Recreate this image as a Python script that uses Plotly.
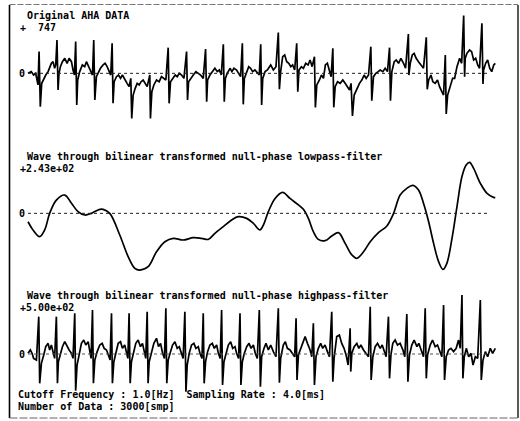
import plotly.graph_objects as go

# ---- data: (sample index, amplitude) vertices of each trace, 3000 samples @ 4 ms ----
ORIGINAL = [
    (0, 0), (21, 22), (36, -21), (49, 0), (58, -86), (64, -150), (71, 280), (79, -430),
    (88, -129), (101, -65), (114, -22), (129, 22), (139, 86), (150, 129), (161, 150), (171, 65),
    (178, 108), (186, 430), (193, -215), (199, 0), (208, 86), (221, 150), (236, 194), (251, 129),
    (264, 194), (279, 150), (289, 43), (298, -22), (306, 409), (313, -409), (319, -86), (332, 22),
    (349, 108), (364, 86), (375, 150), (388, 86), (401, 22), (414, -22), (422, 430), (429, -344),
    (439, -43), (452, 22), (465, 65), (482, 108), (495, 129), (508, 86), (521, 22), (531, -22),
    (540, 387), (546, -387), (553, -108), (568, -43), (581, -22), (594, -65), (606, -22), (621, -86),
    (636, -129), (649, -172), (660, -65), (666, -581), (675, -280), (688, -194), (701, -129), (714, -150),
    (726, -108), (739, -86), (752, -129), (765, -172), (782, -22), (786, -581), (795, -237), (808, -150),
    (825, -86), (842, -108), (857, -43), (872, -65), (885, -86), (900, 331), (906, -387), (915, -108),
    (928, -65), (945, -22), (958, -43), (971, 0), (986, -22), (1001, -65), (1018, 280), (1024, -344),
    (1031, -108), (1044, -65), (1061, -22), (1078, 22), (1093, 0), (1108, -22), (1125, -65), (1140, 314),
    (1147, -366), (1153, -86), (1168, -22), (1185, 22), (1200, 65), (1215, 22), (1228, 43), (1241, -22),
    (1254, 374), (1260, -366), (1267, -65), (1279, 0), (1297, 65), (1309, 22), (1322, 65), (1339, 43),
    (1352, 0), (1365, -43), (1376, 387), (1382, -400), (1389, -65), (1404, 22), (1417, 86), (1429, 65),
    (1442, 22), (1457, 43), (1472, 0), (1485, -22), (1494, 374), (1500, -409), (1507, -65), (1522, 22),
    (1537, 43), (1543, 65), (1558, 108), (1575, 43), (1592, 86), (1607, 525), (1614, -206), (1622, 22),
    (1635, 215), (1648, 237), (1661, 150), (1674, 129), (1687, 86), (1699, 108), (1712, 43), (1725, 387),
    (1732, -237), (1740, 43), (1755, 86), (1768, 65), (1783, 129), (1798, 108), (1811, 172), (1824, 86),
    (1839, 215), (1845, -439), (1854, -150), (1871, -86), (1884, -22), (1897, -65), (1909, 108), (1922, 129),
    (1935, 22), (1946, -43), (1957, 323), (1963, -439), (1972, -172), (1987, -108), (2004, -129), (2021, -86),
    (2036, -129), (2051, -172), (2064, -215), (2074, -129), (2083, -550), (2094, -280), (2111, -194), (2128, -129),
    (2143, -86), (2158, -22), (2171, -65), (2186, -22), (2201, 344), (2207, -353), (2218, -43), (2233, 0),
    (2248, 22), (2261, 43), (2278, 22), (2293, 65), (2308, 22), (2321, 331), (2327, -353), (2336, 22),
    (2351, 150), (2364, 172), (2379, 129), (2394, 194), (2411, 129), (2424, 65), (2442, 507), (2445, -22),
    (2454, 129), (2467, 237), (2479, 258), (2492, 194), (2507, 150), (2522, 108), (2539, 65), (2557, 464),
    (2563, -206), (2572, -86), (2587, -22), (2599, -108), (2614, -129), (2629, -86), (2642, -172), (2657, -237),
    (2668, -280), (2679, 237), (2685, -525), (2694, -280), (2711, -172), (2726, -65), (2739, -65), (2754, 86),
    (2771, 194), (2784, 129), (2797, 747), (2803, -43), (2807, 194), (2818, 258), (2835, 301), (2848, 280),
    (2861, 172), (2874, 194), (2887, 108), (2899, 65), (2914, 645), (2921, -138), (2925, 43), (2938, 129),
    (2951, 172), (2964, 65), (2977, 22), (2990, 108), (3000, 129),
]

LOWPASS = [
    (0, -40), (32, -79), (75, -111), (107, -79), (139, 0), (182, 63), (236, 87), (279, 48),
    (321, 8), (364, -8), (407, 0), (461, 19), (482, 19), (525, 0), (589, -103), (643, -206),
    (686, -262), (718, -270), (771, -254), (825, -183), (879, -135), (932, -119), (996, -127), (1061, -116),
    (1114, -119), (1157, -124), (1200, -95), (1254, -63), (1307, -32), (1350, -16), (1404, -24), (1447, -48),
    (1489, -79), (1511, -56), (1543, 8), (1586, 71), (1635, 100), (1682, 71), (1736, 40), (1768, 19),
    (1800, -24), (1832, -87), (1864, -124), (1907, -130), (1950, -108), (1993, -92), (2036, -143), (2079, -198),
    (2111, -214), (2154, -183), (2197, -135), (2250, -92), (2304, -60), (2347, 0), (2389, 87), (2432, 119),
    (2471, 133), (2507, 111), (2539, 48), (2572, -40), (2604, -143), (2636, -230), (2664, -267), (2689, -238),
    (2722, -119), (2754, 32), (2786, 175), (2813, 230), (2835, 243), (2861, 214), (2904, 143), (2947, 95),
    (2989, 76), (3000, 75),
]

HIGHPASS = [
    (0, 6), (15, 34), (26, 6), (36, -37), (54, -51), (69, 316), (75, -248), (86, -79),
    (101, -8), (114, 62), (129, 90), (139, 34), (150, 76), (161, 6), (171, -37), (182, 316),
    (189, -248), (195, -65), (208, -8), (221, 62), (236, 104), (251, 62), (264, 34), (279, 6),
    (289, -37), (300, 344), (306, -310), (315, -93), (328, -8), (343, 90), (358, 118), (371, 76),
    (386, 104), (396, 6), (405, -37), (414, 372), (420, -248), (429, -51), (444, 20), (461, 76),
    (476, 90), (489, 48), (504, 34), (516, -8), (527, -51), (536, 344), (542, -248), (551, -65),
    (564, 6), (579, 90), (594, 104), (606, 48), (621, 76), (632, 6), (641, -37), (649, 344),
    (656, -248), (664, -65), (679, 20), (692, 90), (707, 118), (722, 62), (735, 90), (748, 6),
    (756, -37), (765, 358), (771, -248), (778, -65), (793, 6), (808, 90), (825, 133), (838, 62),
    (851, 90), (864, 6), (876, -37), (885, 386), (891, -248), (900, -51), (915, 20), (928, 76),
    (943, 104), (958, 48), (971, 62), (984, 6), (996, -37), (1007, 358), (1014, -319), (1022, -93),
    (1035, 6), (1050, 76), (1065, 90), (1078, 48), (1093, 62), (1104, 6), (1117, -37), (1125, 344),
    (1131, -248), (1140, -65), (1153, 20), (1168, 76), (1183, 90), (1196, 48), (1211, 76), (1222, 6),
    (1234, -37), (1243, 372), (1249, -262), (1258, -65), (1271, 6), (1286, 76), (1301, 104), (1314, 48),
    (1329, 62), (1339, 6), (1352, -37), (1361, 344), (1367, -262), (1376, -65), (1389, 6), (1404, 62),
    (1419, 90), (1432, 48), (1447, 76), (1459, 6), (1472, -37), (1485, 372), (1492, -276), (1500, -23),
    (1515, 48), (1528, 90), (1543, 34), (1558, 76), (1575, 20), (1592, -23), (1607, 386), (1614, -243),
    (1622, -37), (1639, 76), (1652, 104), (1665, 48), (1682, 34), (1699, 6), (1712, -23), (1721, 302),
    (1727, -220), (1736, -8), (1751, 48), (1764, 90), (1779, 147), (1794, 90), (1811, 34), (1822, -23),
    (1832, 259), (1839, -262), (1849, -23), (1864, 48), (1879, 90), (1892, 48), (1907, 76), (1922, 20),
    (1935, -23), (1950, 358), (1957, -234), (1965, -37), (1982, 147), (1999, 161), (2014, 90), (2029, 48),
    (2042, -8), (2055, -93), (2068, 217), (2072, -149), (2079, 6), (2094, 62), (2111, 90), (2124, 48),
    (2137, 76), (2154, 34), (2171, 6), (2186, -23), (2197, 400), (2203, -220), (2214, -23), (2229, 62),
    (2244, 90), (2261, 48), (2274, 76), (2287, 20), (2299, -23), (2314, 316), (2321, -206), (2330, -8),
    (2342, 90), (2357, 118), (2372, 76), (2389, 90), (2407, 34), (2419, -23), (2432, 338), (2439, -234),
    (2449, -8), (2464, 76), (2479, 118), (2497, 62), (2509, 90), (2524, 34), (2539, -23), (2550, 386),
    (2557, -206), (2565, -8), (2582, 76), (2597, 118), (2614, 62), (2629, 76), (2647, 20), (2657, -23),
    (2668, 415), (2674, -220), (2685, -23), (2700, 34), (2715, 48), (2732, 20), (2749, 48), (2764, 118),
    (2775, 48), (2786, 499), (2792, -206), (2801, -23), (2814, 48), (2829, -23), (2844, 6), (2857, -93),
    (2872, -23), (2887, -37), (2904, 457), (2910, -220), (2921, -51), (2936, 20), (2951, -23), (2968, 48),
    (2983, 6), (2996, 48), (3000, 48),
]

TITLES = [
    "Original AHA DATA",
    "Wave through bilinear transformed null-phase lowpass-filter",
    "Wave through bilinear transformed null-phase highpass-filter",
]
SCALE_LABELS = ["+\u00a0\u00a0747", "+2.43e+02", "+5.00e+02"]
FOOTER = [
    "Cutoff Frequency : 1.0[Hz]\u00a0\u00a0Sampling Rate : 4.0[ms]",
    "Number of Data : 3000[smp]",
]

# ---- layout constants ----
W, H = 520, 421
X_RANGE = [-179.8, 3158.6]
Y_RANGES = [[-4485, 946], [-988.7, 1015.7], [-566.8, 2994.8]]
ZERO_END = 2962
FONT = dict(family="DejaVu Sans Mono", size=10, color="black")

fig = go.Figure()

for i, (pts, shape) in enumerate([(ORIGINAL, "linear"), (LOWPASS, "spline"), (HIGHPASS, "linear")]):
    xs = [p[0] for p in pts]
    ys = [p[1] for p in pts]
    fig.add_trace(go.Scatter(
        x=xs, y=ys, mode="lines",
        line=dict(color="black", width=1.7, shape=shape, smoothing=1.0 if shape == "spline" else None),
        yaxis="y" if i == 0 else f"y{i + 1}",
        hoverinfo="skip",
    ))

shapes = []
# dashed zero lines
for i, col in enumerate(["#222", "#222", "#555"]):
    shapes.append(dict(type="line", xref="x", yref="y" if i == 0 else f"y{i + 1}",
                       x0=0, x1=ZERO_END, y0=0, y1=0,
                       line=dict(color=col, width=1, dash="3px,3px")))

# outer frame
def px(x):
    return x / W

def py(y):
    return 1 - y / H

shapes += [
    dict(type="line", xref="paper", yref="paper", x0=px(9.5), x1=px(9.5), y0=py(5), y1=py(418),
         line=dict(color="black", width=1.6)),
    dict(type="line", xref="paper", yref="paper", x0=px(518), x1=px(518), y0=py(5), y1=py(418),
         line=dict(color="black", width=1.3)),
    dict(type="line", xref="paper", yref="paper", x0=px(9.5), x1=px(518), y0=py(4.5), y1=py(4.5),
         line=dict(color="#777", width=1, dash="6px,2px")),
    dict(type="line", xref="paper", yref="paper", x0=px(9.5), x1=px(518), y0=py(418), y1=py(418),
         line=dict(color="#666", width=1, dash="8px,2px")),
]

annotations = []

def label(text, x, y):
    annotations.append(dict(text=f"<b>{text}</b>", x=px(x), y=py(y), xref="paper", yref="paper",
                            xanchor="left", yanchor="middle", showarrow=False, font=FONT,
                            borderpad=0))

title_y = [15.5, 156.5, 295.5]
scale_y = [27.5, 168.5, 307.5]
zero_y = [73, 213, 354]
for t, s, ty, sy, zy in zip(TITLES, SCALE_LABELS, title_y, scale_y, zero_y):
    label(t, 26, ty)
    label(s, 19, sy)
    label("0", 18, zy)
label(FOOTER[0], 17, 394.5)
label(FOOTER[1], 17, 406.5)

fig.update_layout(
    width=W, height=H, margin=dict(l=0, r=0, t=0, b=0),
    paper_bgcolor="white", plot_bgcolor="white", showlegend=False,
    xaxis=dict(range=X_RANGE, visible=False, fixedrange=True),
    yaxis=dict(range=Y_RANGES[0], visible=False, fixedrange=True),
    yaxis2=dict(range=Y_RANGES[1], overlaying="y", visible=False, fixedrange=True),
    yaxis3=dict(range=Y_RANGES[2], overlaying="y", visible=False, fixedrange=True),
    shapes=shapes, annotations=annotations,
)

fig.write_html("out.html", config=dict(displayModeBar=False))
